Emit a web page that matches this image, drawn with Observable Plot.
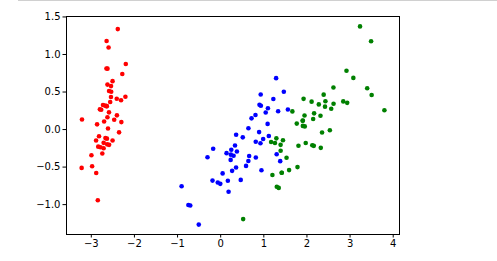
<!DOCTYPE html>
<html>
<head>
<meta charset="utf-8">
<script src="https://cdn.jsdelivr.net/npm/d3@7"></script>
<script src="https://cdn.jsdelivr.net/npm/@observablehq/plot@0.6"></script>
<style>
  html, body { margin: 0; padding: 0; background: #fff; }
  #wrap { position: relative; width: 497px; height: 261px; }
  #topline { position: absolute; left: 18px; top: 0; width: 479px; height: 1px; background: #d0d0d0; }
  svg { font-family: "DejaVu Sans", sans-serif; }
</style>
</head>
<body>
<div id="wrap"><div id="topline"></div></div>
<script>
const setosaX = [-2.684,-2.714,-2.889,-2.745,-2.729,-2.281,-2.821,-2.626,-2.886,-2.673,-2.507,-2.613,-2.786,-3.224,-2.645,-2.386,-2.624,-2.648,-2.200,-2.588,-2.310,-2.544,-3.216,-2.303,-2.356,-2.507,-2.469,-2.562,-2.640,-2.632,-2.587,-2.410,-2.649,-2.599,-2.637,-2.866,-2.625,-2.801,-2.981,-2.590,-2.770,-2.849,-2.997,-2.406,-2.209,-2.714,-2.538,-2.839,-2.543,-2.703];
const setosaY = [0.319,-0.177,-0.145,-0.318,0.327,0.741,-0.089,0.163,-0.578,-0.114,0.645,0.015,-0.235,-0.511,1.179,1.338,0.811,0.312,0.873,0.514,0.391,0.433,0.133,0.099,-0.037,-0.146,0.131,0.368,0.312,-0.197,-0.204,0.411,0.813,1.093,-0.121,0.069,0.599,0.269,-0.488,0.229,0.264,-0.941,-0.342,0.189,0.437,-0.250,0.504,-0.228,0.579,0.108];
const versicolorX = [1.285,0.932,1.464,0.183,1.088,0.642,1.095,-0.749,1.044,-0.009,-0.508,0.512,0.265,0.985,-0.174,0.928,0.660,0.236,0.945,0.045,1.116,0.358,1.298,0.922,0.715,0.900,1.332,1.558,0.813,-0.306,-0.068,-0.190,0.136,1.380,0.588,0.807,1.221,0.815,0.246,0.166,0.465,0.891,0.231,-0.705,0.357,0.332,0.376,0.643,-0.906,0.299];
const versicolorY = [0.685,0.318,0.504,-0.828,0.075,-0.418,0.283,-1.005,0.228,-0.723,-1.266,-0.104,-0.550,-0.125,-0.255,0.467,-0.353,-0.334,-0.543,-0.584,-0.085,-0.069,-0.328,-0.183,0.149,0.329,0.244,0.267,-0.163,-0.368,-0.705,-0.680,-0.314,-0.421,-0.484,0.194,0.408,-0.372,-0.269,-0.682,-0.671,-0.034,-0.404,-1.012,-0.505,-0.213,-0.293,0.018,-0.756,-0.349];
const virginicaX = [2.531,1.415,2.617,1.972,2.350,3.397,0.521,2.933,2.321,2.917,1.662,1.803,2.166,1.346,1.586,1.904,1.950,3.487,3.796,1.301,2.428,1.199,3.500,1.389,2.275,2.614,1.259,1.291,2.124,2.388,2.842,3.231,2.159,1.444,1.781,3.076,2.144,1.905,1.169,2.108,2.314,1.922,1.415,2.563,2.419,1.944,1.527,1.764,1.901,1.390];
const virginicaY = [-0.010,-0.575,0.344,-0.180,-0.040,0.551,-1.193,0.356,-0.244,0.783,0.242,-0.216,0.216,-0.777,-0.540,0.119,0.042,1.176,0.257,-0.761,0.378,-0.606,0.461,-0.204,0.335,0.561,-0.180,-0.117,-0.210,0.465,0.375,1.374,-0.217,-0.143,-0.500,0.688,0.140,0.049,-0.165,0.372,0.184,0.409,-0.575,0.278,0.305,0.188,-0.375,0.079,0.117,-0.283];
const groups = ["setosa", "versicolor", "virginica"];
const colors = ["#ff0000", "#0000ff", "#008000"];
const xTicks = [-3, -2, -1, 0, 1, 2, 3, 4];
const yTicks = [-1.0, -0.5, 0.0, 0.5, 1.0, 1.5];

const xs = [setosaX, versicolorX, virginicaX];
const ys = [setosaY, versicolorY, virginicaY];
const data = [];
groups.forEach((g, gi) => xs[gi].forEach((x, i) => data.push({group: g, x, y: ys[gi][i]})));

const fmtMinus = s => s.replace("-", "\u2212");
const chart = Plot.plot({
  width: 497,
  height: 261,
  marginLeft: 66,
  marginRight: 98,
  marginTop: 16,
  marginBottom: 27,
  style: {fontFamily: "DejaVu Sans, sans-serif", fontSize: "10px", color: "#000", background: "#fff"},
  x: {domain: [-3.575, 4.146]},
  y: {domain: [-1.398, 1.506]},
  color: {domain: groups, range: colors},
  marks: [
    Plot.dot(data, {x: "x", y: "y", fill: "group", r: 2.3, stroke: null}),
    Plot.frame({stroke: "#000", strokeWidth: 1}),
    Plot.axisX({ticks: xTicks, tickSize: 3.5, tickPadding: 2, tickFormat: d => fmtMinus(d3.format("d")(d)), label: null, fontSize: 10, fill: "#000"}),
    Plot.axisY({ticks: yTicks, tickSize: 3.5, tickPadding: 2.5, tickFormat: d => fmtMinus(d3.format(".1f")(d)), label: null, fontSize: 10, fill: "#000"})
  ]
});
document.getElementById("wrap").appendChild(chart);
</script>
</body>
</html>
